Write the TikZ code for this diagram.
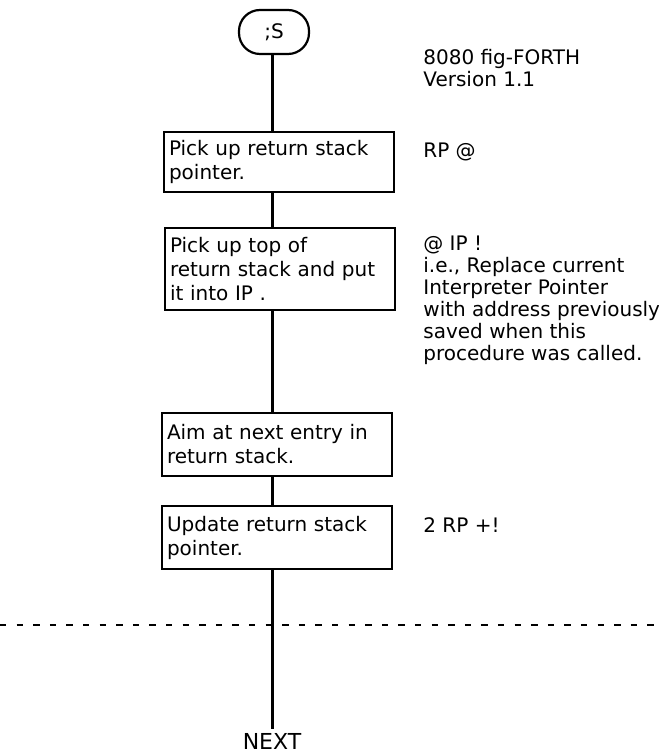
\documentclass[tikz,border=0pt]{standalone}
\usepackage{fontspec}
\setmainfont{DejaVu Sans}
\usetikzlibrary{positioning}

\begin{document}
\begin{tikzpicture}[
  x=0.5pt, y=-0.5pt,
  font=\fontsize{10}{12}\selectfont,
  proc/.style={draw, line width=1.1pt, text width=110pt, align=left,
               inner xsep=2.5pt, inner ysep=2pt},
  term/.style={draw, line width=1.1pt, rounded corners=10.5pt,
               minimum width=35pt, minimum height=22pt, inner sep=0pt},
  note/.style={anchor=base west, align=left, inner sep=0pt,
               font=\fontsize{10}{11}\selectfont},
  flow/.style={line width=1.5pt},
  cut/.style={line width=1.4pt, dash pattern=on 3.2pt off 5.1pt},
]

\useasboundingbox (0,0) rectangle (658,753);

% ---- Flow chart -------------------------------------------------------------
\coordinate (spine) at (272,0);
\node[term] (start) at (274,32) {;S};
\node[proc, minimum height=30pt] (getrp) at (279,162)
  {Pick up return stack\\ pointer.};
\node[proc, minimum height=41pt] (getip) at (280,269)
  {Pick up top of\\ return stack and put\\ it into IP .};
\node[proc, minimum height=31.5pt] (aim) at (277,444.5)
  {Aim at next entry in\\ return stack.};
\node[proc, minimum height=31.5pt] (update) at (277,537.5)
  {Update return stack\\ pointer.};
\node[font=\fontsize{11}{13}\selectfont, inner sep=0pt] (next) at (272,741) {NEXT};

% ---- Notes (anchored on the baseline of their last line) --------------------
\node[note] (header) at (423,87) {8080 fig-FORTH\\ Version 1.1};
\node[note] (rpnote) at (423,158) {RP @};
\node[note] (ipnote) at (423,360) {@ IP !\\ i.e., Replace current\\
  Interpreter Pointer\\ with address previously\\ saved when this\\
  procedure was called.};
\node[note] (addnote) at (423,532) {2 RP +!};

% ---- Page cut ---------------------------------------------------------------
\coordinate (cutl) at (0,625);
\coordinate (cutr) at (658,625);
\draw[cut] (cutl) -- (cutr);

% ---- Connectors -------------------------------------------------------------
\draw[flow] (start.south -| spine) -- (getrp.north -| spine);
\draw[flow] (getrp.south -| spine) -- (getip.north -| spine);
\draw[flow] (getip.south -| spine) -- (aim.north -| spine);
\draw[flow] (aim.south -| spine) -- (update.north -| spine);
\draw[flow] (update.south -| spine) -- ([yshift=2pt]next.north -| spine);

\end{tikzpicture}
\end{document}
